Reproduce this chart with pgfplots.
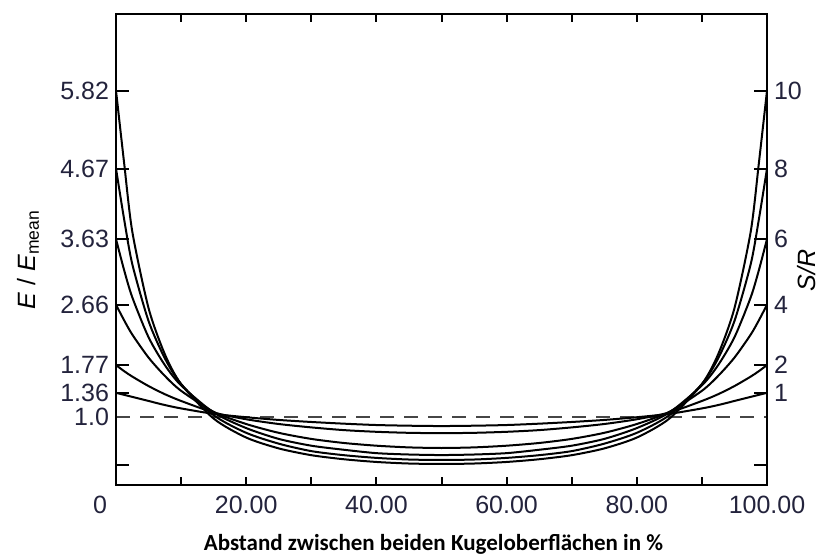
\documentclass[border=0pt]{standalone}
\usepackage{fontspec}
\setmainfont{Liberation Sans}
\newfontfamily\labelfont{Carlito}
\usepackage{pgfplots}
\pgfplotsset{compat=1.18}
\usetikzlibrary{calc}

\definecolor{ticklbl}{RGB}{35,35,60}
\definecolor{dashgray}{RGB}{70,70,70}

\pgfplotsset{
  kugel/.style={
    scale only axis, width=325.5pt, height=235.5pt,
    xmin=0, xmax=100, ymin=0, ymax=6.95,
    axis line style={line width=1.3pt},
    tick style={line width=1pt, black},
    tick align=inside,
    tick label style={font=\fontsize{12.5}{14}\selectfont, text=ticklbl},
    /pgf/number format/assume math mode=true,
  },
  kurve/.style={black, line width=1pt, smooth, tension=0.45},
}

\begin{document}
\begin{tikzpicture}
% curves and left scale
\begin{axis}[kugel, name=main,
    xtick=\empty,
    ytick={0.3,1.0,1.36,1.77,2.66,3.63,4.67,5.82},
    yticklabels={,1.0,1.36,1.77,2.66,3.63,4.67,5.82},
    ytick pos=left, major tick length=6.5pt,
    ylabel={\fontsize{12.5}{14}\selectfont\textit{E} / \textit{E}\textsubscript{mean}},
    ylabel style={at={(rel axis cs:-0.1352,0.478)}, anchor=center},
  ]
  \addplot[dashgray, line width=1pt, dash pattern=on 7pt off 5pt] coordinates {(0,1) (100,1)};
  % S/R = 10
  \addplot[kurve] coordinates {
    (0,5.82) (1.25,4.75) (2.5,3.74) (5,2.61) (7.5,1.93) (10,1.49) (15,0.98) (20,0.70) (25,0.54)
    (30,0.44) (35,0.38) (40,0.34) (45,0.317) (50,0.31) (55,0.317) (60,0.34) (65,0.38) (70,0.44)
    (75,0.54) (80,0.70) (85,0.98) (90,1.49) (92.5,1.93) (95,2.61) (97.5,3.74) (98.75,4.75) (100,5.82)};
  % S/R = 8
  \addplot[kurve] coordinates {
    (0,4.67) (1.25,3.92) (2.5,3.26) (5,2.42) (7.5,1.87) (10,1.49) (15,1.03) (20,0.77) (25,0.61)
    (30,0.50) (35,0.44) (40,0.40) (45,0.376) (50,0.369) (55,0.376) (60,0.40) (65,0.44) (70,0.50)
    (75,0.61) (80,0.77) (85,1.03) (90,1.49) (92.5,1.87) (95,2.42) (97.5,3.26) (98.75,3.92) (100,4.67)};
  % S/R = 6
  \addplot[kurve] coordinates {
    (0,3.63) (1.25,3.17) (2.5,2.77) (5,2.18) (7.5,1.77) (10,1.47) (15,1.07) (20,0.84) (25,0.68)
    (30,0.58) (35,0.52) (40,0.47) (45,0.45) (50,0.442) (55,0.45) (60,0.47) (65,0.52) (70,0.58)
    (75,0.68) (80,0.84) (85,1.07) (90,1.47) (92.5,1.77) (95,2.18) (97.5,2.77) (98.75,3.17) (100,3.63)};
  % S/R = 4
  \addplot[kurve] coordinates {
    (0,2.66) (1.25,2.43) (2.5,2.22) (5,1.88) (7.5,1.61) (10,1.39) (15,1.08) (20,0.90) (25,0.77)
    (30,0.68) (35,0.62) (40,0.58) (45,0.555) (50,0.546) (55,0.555) (60,0.58) (65,0.62) (70,0.68)
    (75,0.77) (80,0.90) (85,1.08) (90,1.39) (92.5,1.61) (95,1.88) (97.5,2.22) (98.75,2.43) (100,2.66)};
  % S/R = 2
  \addplot[kurve] coordinates {
    (0,1.77) (1.25,1.68) (2.5,1.60) (5,1.46) (7.5,1.34) (10,1.24) (15,1.07) (20,0.97) (25,0.90)
    (30,0.85) (35,0.81) (40,0.785) (45,0.77) (50,0.765) (55,0.77) (60,0.785) (65,0.81) (70,0.85)
    (75,0.90) (80,0.97) (85,1.07) (90,1.24) (92.5,1.34) (95,1.46) (97.5,1.60) (98.75,1.68) (100,1.77)};
  % S/R = 1
  \addplot[kurve] coordinates {
    (0,1.36) (1.25,1.33) (2.5,1.30) (5,1.24) (7.5,1.18) (10,1.13) (15,1.05) (20,1.00) (25,0.96)
    (30,0.93) (35,0.905) (40,0.885) (45,0.875) (50,0.87) (55,0.875) (60,0.885) (65,0.905) (70,0.93)
    (75,0.96) (80,1.00) (85,1.05) (90,1.13) (92.5,1.18) (95,1.24) (97.5,1.30) (98.75,1.33) (100,1.36)};
\end{axis}
% x scale
\begin{axis}[kugel,
    ytick=\empty,
    xtick={0,10,...,100},
    xticklabels={,,20.00,,40.00,,60.00,,80.00,,100.00},
    xtick pos=both, xticklabel pos=lower, major tick length=4pt,
    extra x ticks={0}, extra x tick labels={0},
    extra x tick style={tick label style={xshift=-8pt}},
    xticklabel style={yshift=-2pt},
    xlabel={\labelfont\bfseries\fontsize{11.5}{13}\selectfont Abstand zwischen beiden Kugeloberflächen in \%},
    xlabel style={at={(rel axis cs:0.4877,-0.1250)}, anchor=center},
  ]
\end{axis}
% right scale
\begin{axis}[kugel,
    xtick=\empty,
    ytick={0.3,1.36,1.77,2.66,3.63,4.67,5.82},
    yticklabels={,1,2,4,6,8,10},
    ytick pos=right, yticklabel pos=right, major tick length=6.5pt,
    ylabel={\fontsize{12.5}{14}\selectfont\textit{S/R}},
    ylabel style={at={(rel axis cs:1.0600,0.456)}, anchor=center},
  ]
\end{axis}
\pgfresetboundingbox
\path[use as bounding box] ($(main.south west)+(-58pt,-35.5pt)$) rectangle ($(main.north east)+(27.5pt,7pt)$);
\end{tikzpicture}
\end{document}
